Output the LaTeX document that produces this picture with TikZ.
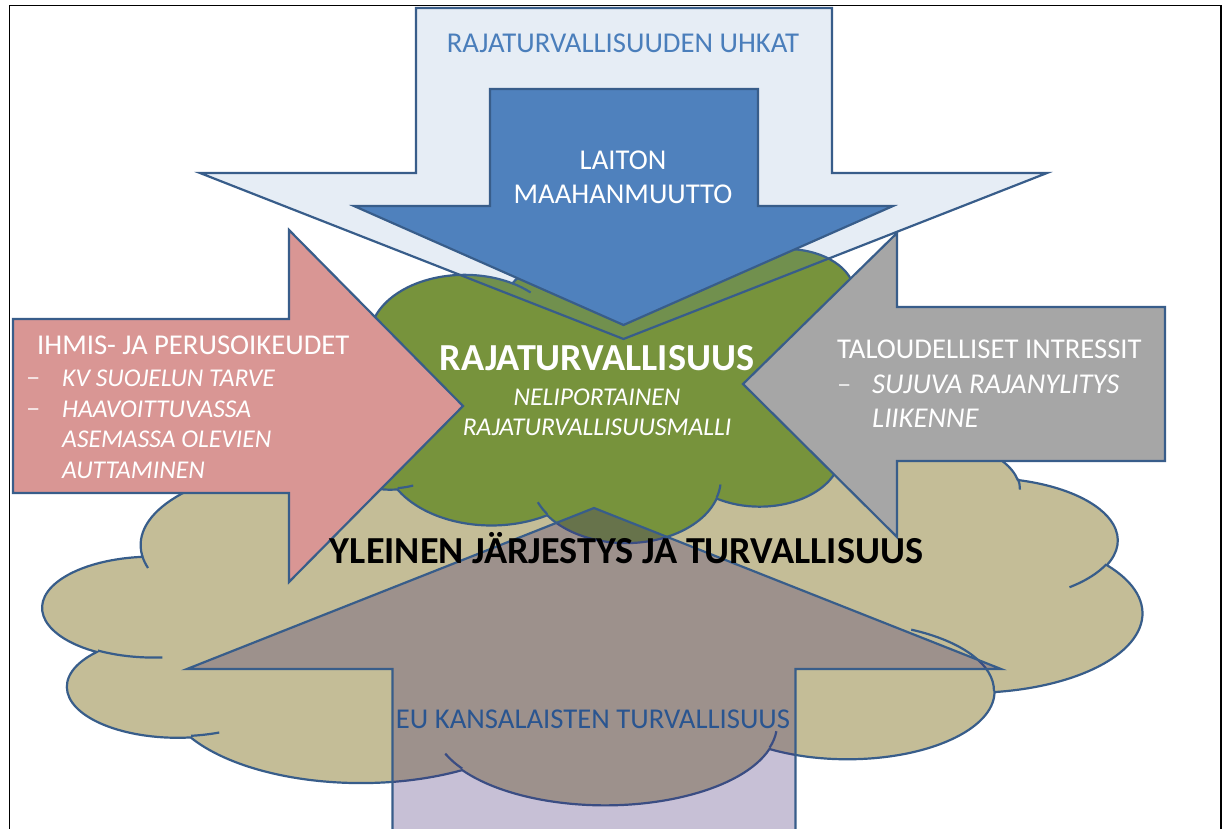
\documentclass[tikz,border=0pt]{standalone}
\usepackage{fontspec}
\setmainfont{Carlito}
\definecolor{outl}{HTML}{385D8A}
\definecolor{blueA}{HTML}{4F81BD}
\definecolor{greenA}{HTML}{77933C}
\definecolor{tanA}{HTML}{C4BD97}
\definecolor{pinkA}{HTML}{D99694}
\definecolor{grayA}{HTML}{A6A6A6}
\definecolor{purpA}{RGB}{65,38,114}
\definecolor{uhkatcol}{HTML}{4A7EBB}
\definecolor{eutext}{HTML}{2A5590}

\tikzset{
  shapeline/.style={draw=outl, line width=2.2pt, line join=miter},
  txt/.style={inner sep=0pt, text=white},
  t28/.style={font=\fontsize{28.7}{34}\selectfont},
  i25/.style={font=\fontsize{25.6}{30}\selectfont\itshape},
  i28/.style={font=\fontsize{28.7}{34}\selectfont\itshape},
  b37/.style={font=\fontsize{38.2}{44}\selectfont\bfseries},
  dashmark/.style={txt, t28, text opacity=0.8, anchor=base west},
}

% Elliptic arc given by visual start angle and sweep (cloud geometry),
% stored as a style holding the parametric angles.
\newcommand\mkarc[5]{%
  \pgfmathsetmacro\tmpa{atan2((#2)*sin(#4),(#3)*cos(#4))}%
  \pgfmathsetmacro\tmpb{atan2((#2)*sin((#4)+(#5)),(#3)*cos((#4)+(#5)))}%
  \pgfmathsetmacro\tmpd{\tmpb-\tmpa}%
  \pgfmathsetmacro\tmpd{\tmpd<0 ? \tmpd+360 : \tmpd}%
  \edef\tmpx{\noexpand\tikzset{#1/.style={x radius=#2,y radius=#3,start angle=\tmpa,delta angle=\tmpd}}}%
  \tmpx}

% outer outline of the cloud (units of 1/1000 of the 43200 box)
\mkarc{ca1}{6.753}{9.190}{-190.4875}{123.7805}
\mkarc{ca2}{5.333}{7.267}{-144.1024}{89.9452}
\mkarc{ca3}{4.365}{5.945}{-145.8079}{99.7230}
\mkarc{ca4}{4.857}{6.595}{-130.9861}{117.2417}
\mkarc{ca5}{5.333}{7.273}{-78.7089}{109.0269}
\mkarc{ca6}{6.775}{9.220}{-46.2673}{130.2690}
\mkarc{ca7}{5.785}{7.867}{0.6250}{114.0333}
\mkarc{ca8}{6.752}{9.215}{22.4516}{115.1726}
\mkarc{ca9}{7.720}{10.543}{66.2426}{75.7110}
\mkarc{ca10}{4.360}{5.918}{-274.9421}{146.7356}
\mkarc{ca11}{4.345}{5.945}{-246.8285}{152.5189}
% inner hooks of the cloud
\mkarc{cb1}{4.345}{5.945}{86.7420}{26.4295}
\mkarc{cb2}{4.360}{5.918}{73.6105}{11.4475}
\mkarc{cb3}{6.752}{9.215}{137.6242}{14.0811}
\mkarc{cb4}{6.752}{9.215}{6.4533}{15.9984}
\mkarc{cb5}{5.785}{7.867}{-70.2924}{70.9174}
\mkarc{cb6}{5.333}{7.273}{30.3180}{27.7515}
\mkarc{cb7}{4.857}{6.595}{-13.7443}{14.8589}
\mkarc{cb8}{4.857}{6.595}{-149.1815}{18.1954}
\mkarc{cb9}{4.365}{5.945}{-163.4943}{17.6864}
\mkarc{cb10}{6.753}{9.190}{-66.7070}{12.3194}
\mkarc{cb11}{6.753}{9.190}{157.6544}{11.8582}

\newcommand\cloudbody{(3.900,14.370) arc[ca1] arc[ca2] arc[ca3] arc[ca4] arc[ca5] arc[ca6] arc[ca7] arc[ca8] arc[ca9] arc[ca10] arc[ca11] -- cycle}
\newcommand\cloudhooks{(4.693,26.177) arc[cb1] (6.928,34.899) arc[cb2] (16.478,39.090) arc[cb3] (28.827,34.751) arc[cb4] (34.129,22.954) arc[cb5] (41.798,15.354) arc[cb6] (38.324,5.426) arc[cb7] (29.078,3.952) arc[cb8] (22.141,4.720) arc[cb9] (14.000,5.192) arc[cb10] (4.127,15.789) arc[cb11]}

\begin{document}
\begin{tikzpicture}[x=1pt,y=-1pt]
\useasboundingbox (0,0) rectangle (1229,829);
\clip (0,0) rectangle (1229,829);
\fill[white] (0,0) rectangle (1229,829);

% outer frame
\draw[line width=1.8pt] (9.5,840) -- (9.5,5.5) -- (1221,5.5) -- (1221,840);

% public order cloud
\begin{scope}[shift={(43,432)}, x=25.44pt, y=-8.611pt]
  \path[shapeline, fill=tanA] \cloudbody;
  \path[shapeline] \cloudhooks;
\end{scope}

% border security cloud
\begin{scope}[shift={(316,248)}, x=14.03pt, y=-6.806pt]
  \path[shapeline, fill=greenA] \cloudbody;
  \path[shapeline] \cloudhooks;
\end{scope}

% threats arrow (pale, see-through)
\path[shapeline, fill=blueA, fill opacity=0.14]
  (416,8) -- (832,8) -- (832,173) -- (1047,173) -- (623.5,339) -- (200,173) -- (416,173) -- cycle;
% illegal immigration arrow
\path[shapeline, fill=blueA]
  (490,89) -- (758,89) -- (758,206) -- (893,206) -- (623.5,325) -- (354,206) -- (490,206) -- cycle;
% human rights arrow
\path[shapeline, fill=pinkA]
  (13,319) -- (289,319) -- (289,230) -- (463,406) -- (289,582) -- (289,493) -- (13,493) -- cycle;
% economic interests arrow
\path[shapeline, fill=grayA]
  (1165,307) -- (897,307) -- (897,233) -- (743,384) -- (897,537) -- (897,461) -- (1165,461) -- cycle;
% EU citizens arrow (see-through)
\path[shapeline, fill=purpA, fill opacity=0.29]
  (392.5,845) -- (392.5,669) -- (187,669) -- (594,508) -- (1001,669) -- (795.5,669) -- (795.5,845) -- cycle;

% labels
\node[txt, t28, text=uhkatcol, anchor=base] (uhkat) at (623,53) {RAJATURVALLISUUDEN UHKAT};
\node[txt, t28, anchor=base] (laiton) at (623,170) {LAITON};
\node[txt, t28, anchor=base] (maahan) at (623,204) {MAAHANMUUTTO};

\node[txt, b37, anchor=base] (rt) at (597,370) {RAJATURVALLISUUS};
\node[txt, i25, anchor=base] (neli) at (597,405) {NELIPORTAINEN};
\node[txt, i25, anchor=base] (malli) at (597,435) {RAJATURVALLISUUSMALLI};

\node[txt, t28, anchor=base west] (ihmis) at (37,354) {IHMIS- JA PERUSOIKEUDET};
\node[dashmark] (dash1) at (26,386) {–};
\node[txt, i25, anchor=base west] (kv) at (62,386) {KV SUOJELUN TARVE};
\node[dashmark] (dash2) at (26,417) {–};
\node[txt, i25, anchor=base west] (haav) at (62,417) {HAAVOITTUVASSA};
\node[txt, i25, anchor=base west] (asem) at (62,447) {ASEMASSA OLEVIEN};
\node[txt, i25, anchor=base west] (autt) at (62,478) {AUTTAMINEN};

\node[txt, t28, anchor=base west] (talo) at (837,358) {TALOUDELLISET INTRESSIT};
\node[dashmark] (dash3) at (837,393) {–};
\node[txt, i28, anchor=base west] (suju) at (872,393) {SUJUVA RAJANYLITYS};
\node[txt, i28, anchor=base west] (liik) at (872,427) {LIIKENNE};

\node[txt, b37, text=black, anchor=base] (yleinen) at (626.5,563) {YLEINEN JÄRJESTYS JA TURVALLISUUS};
\node[txt, t28, text=eutext, anchor=base] (eu) at (593,728) {EU KANSALAISTEN TURVALLISUUS};
\end{tikzpicture}
\end{document}
